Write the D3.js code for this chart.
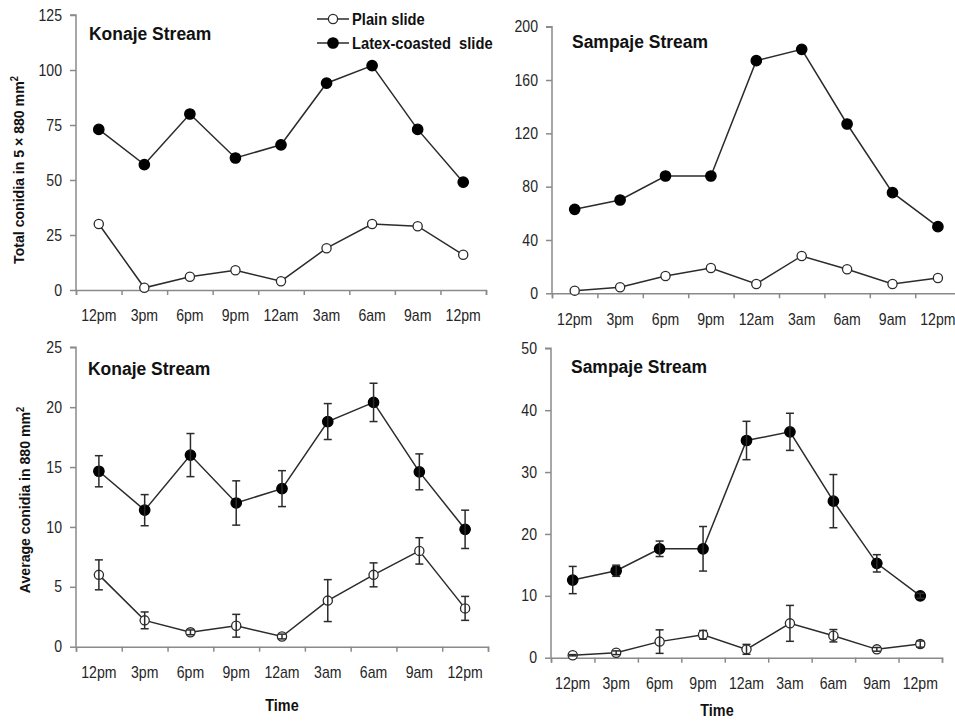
<!DOCTYPE html>
<html>
<head>
<meta charset="utf-8">
<script src="https://cdn.jsdelivr.net/npm/d3@7"></script>
<style>
  html, body { margin: 0; padding: 0; background: #fff; }
  svg { display: block; font-family: "Liberation Sans", Arial, sans-serif; }
</style>
</head>
<body>
<svg id="chart" width="955" height="722"></svg>
<script>
// Sampling times (3-hour intervals over 24 h)
const times = ["12pm", "3pm", "6pm", "9pm", "12am", "3am", "6am", "9am", "12pm"];

// Total conidia trapped in 5 x 880 mm2
const konajeTotalPlain = [30, 1, 6, 9, 4, 19, 30, 29, 16];
const konajeTotalLatex = [73, 57, 80, 60, 66, 94, 102, 73, 49];
const sampajeTotalPlain = [2, 4.5, 13, 19, 7, 28, 18, 7, 11.5];
const sampajeTotalLatex = [63, 70, 88, 88, 174.5, 183, 127, 75.5, 50];

// Average conidia in 880 mm2 (mean and +/- error)
const konajeAvgPlain = [6.0, 2.2, 1.2, 1.75, 0.85, 3.85, 6.0, 8.0, 3.2];
const konajeAvgPlainErr = [1.25, 0.7, 0.2, 0.95, 0.2, 1.75, 1.0, 1.1, 1.0];
const konajeAvgLatex = [14.65, 11.4, 16.0, 12.0, 13.2, 18.8, 20.4, 14.6, 9.8];
const konajeAvgLatexErr = [1.3, 1.3, 1.8, 1.85, 1.5, 1.5, 1.6, 1.5, 1.6];
const sampajeAvgPlain = [0.4, 0.8, 2.6, 3.7, 1.35, 5.55, 3.55, 1.35, 2.2];
const sampajeAvgPlainErr = [0.1, 0.3, 1.9, 0.7, 0.8, 2.9, 1.0, 0.3, 0.5];
const sampajeAvgLatex = [12.55, 14.05, 17.6, 17.6, 35.1, 36.5, 25.3, 15.25, 10.0];
const sampajeAvgLatexErr = [2.2, 0.9, 1.25, 3.6, 3.1, 3.0, 4.3, 1.4, 0.4];

// Y-axis tick values
const konajeTotalTicks = [0, 25, 50, 75, 100, 125];
const sampajeTotalTicks = [0, 40, 80, 120, 160, 200];
const konajeAvgTicks = [0, 5, 10, 15, 20, 25];
const sampajeAvgTicks = [0, 10, 20, 30, 40, 50];

const seriesNames = ["Plain slide", "Latex-coasted  slide"];

const svg = d3.select("#chart");
const LINE = "#2b2b2b", AXIS = "#8a8a8a", TEXT = "#262626";

// Panel layout
const panels = [
  { title: "Konaje Stream", x0: 76, x1: 486, y0: 290, y1: 15, ticks: konajeTotalTicks,
    plain: konajeTotalPlain, latex: konajeTotalLatex, titlePos: [89, 40],
    ylabel: "Total conidia in 5 \u00d7 880 mm", ylabelPos: [24, 170], legend: true },
  { title: "Sampaje Stream", x0: 552, x1: 960.6, y0: 293.3, y1: 26.7, ticks: sampajeTotalTicks,
    plain: sampajeTotalPlain, latex: sampajeTotalLatex, titlePos: [572, 48] },
  { title: "Konaje Stream", x0: 76, x1: 488, y0: 646.7, y1: 347.3, ticks: konajeAvgTicks,
    plain: konajeAvgPlain, plainErr: konajeAvgPlainErr, latex: konajeAvgLatex, latexErr: konajeAvgLatexErr,
    titlePos: [88, 375], ylabel: "Average conidia in 880 mm", ylabelPos: [30, 500], xlabel: [282, 711] },
  { title: "Sampaje Stream", x0: 551, x1: 942, y0: 657.7, y1: 348.3, ticks: sampajeAvgTicks,
    plain: sampajeAvgPlain, plainErr: sampajeAvgPlainErr, latex: sampajeAvgLatex, latexErr: sampajeAvgLatexErr,
    titlePos: [571, 373], xlabel: [717, 716] }
];

function drawPanel(p) {
  const g = svg.append("g");
  const idx = d3.range(times.length);
  const x = d3.scaleBand().domain(idx).range([p.x0, p.x1]).paddingInner(0).paddingOuter(0);
  const xEdge = d3.scaleLinear().domain([0, times.length]).range([p.x0, p.x1]);
  const y = d3.scaleLinear().domain([p.ticks[0], p.ticks[p.ticks.length - 1]]).range([p.y0, p.y1]);
  const cx = i => x(i) + x.bandwidth() / 2;

  // x axis: boundary ticks + centred category labels
  const xa = g.append("g").attr("transform", `translate(0,${p.y0})`)
    .call(d3.axisBottom(xEdge).tickValues(d3.range(times.length + 1)).tickFormat("").tickSize(5).tickSizeOuter(5));
  xa.selectAll("path, line").attr("stroke", AXIS).attr("stroke-width", 1.5);
  const xl = g.append("g").attr("transform", `translate(0,${p.y0})`)
    .call(d3.axisBottom(x).tickSize(0).tickPadding(20).tickFormat(i => times[i]));
  xl.select(".domain").remove();
  xl.selectAll("text").attr("font-size", 16).attr("fill", TEXT).attr("transform", "scale(0.88,1)");

  // y axis
  const ya = g.append("g").attr("transform", `translate(${p.x0},0)`)
    .call(d3.axisLeft(y).tickValues(p.ticks).tickSize(6).tickSizeOuter(6).tickPadding(7));
  ya.selectAll("path, line").attr("stroke", AXIS).attr("stroke-width", 1.5);
  ya.select(".domain").attr("d", `M-6,${y.range()[1]}H0V${y.range()[0]}`);
  ya.selectAll("text").attr("font-size", 16).attr("fill", TEXT)
    .attr("transform", "scale(0.88,1)").attr("x", -14 / 0.88);

  // title
  g.append("text")
    .attr("transform", `translate(${p.titlePos[0]},${p.titlePos[1]}) scale(0.92,1)`)
    .attr("font-size", 19).attr("font-weight", "bold").attr("fill", "#111")
    .text(p.title);

  const line = d3.line().x((d, i) => cx(i)).y(d => y(d));

  [["latex", p.latex, p.latexErr], ["plain", p.plain, p.plainErr]].forEach(([kind, vals, errs]) => {
    g.append("path").datum(vals).attr("d", line)
      .attr("fill", "none").attr("stroke", LINE).attr("stroke-width", 1.5);
    g.selectAll(null).data(vals).enter().append("circle")
      .attr("cx", (d, i) => cx(i)).attr("cy", d => y(d))
      .attr("r", kind === "latex" ? 5.2 : 4.6)
      .attr("fill", kind === "latex" ? "#000" : "#fff")
      .attr("stroke", kind === "latex" ? "#000" : LINE)
      .attr("stroke-width", 1.3);
    if (errs) {
      const eg = g.append("g").attr("stroke", LINE).attr("stroke-width", 1.5);
      vals.forEach((v, i) => {
        const top = y(v + errs[i]), bot = y(v - errs[i]), xc = cx(i);
        eg.append("line").attr("x1", xc).attr("x2", xc).attr("y1", top).attr("y2", bot);
        eg.append("line").attr("x1", xc - 4).attr("x2", xc + 4).attr("y1", top).attr("y2", top);
        eg.append("line").attr("x1", xc - 4).attr("x2", xc + 4).attr("y1", bot).attr("y2", bot);
      });
    }
  });

  // y-axis title with superscript
  if (p.ylabel) {
    const t = g.append("text")
      .attr("transform", `translate(${p.ylabelPos[0]},${p.ylabelPos[1]}) rotate(-90) scale(0.94,1)`)
      .attr("text-anchor", "middle").attr("font-size", 15).attr("font-weight", "bold").attr("fill", "#111");
    t.append("tspan").text(p.ylabel);
    t.append("tspan").attr("dy", -6).attr("font-size", 10).text("2");
  }
  if (p.xlabel) {
    g.append("text")
      .attr("transform", `translate(${p.xlabel[0]},${p.xlabel[1]}) scale(0.9,1)`)
      .attr("text-anchor", "middle").attr("font-size", 16).attr("font-weight", "bold").attr("fill", "#111")
      .text("Time");
  }

  if (p.legend) {
    const lg = g.append("g");
    [[seriesNames[0], 19, false], [seriesNames[1], 43, true]].forEach(([name, ly, filled]) => {
      lg.append("line").attr("x1", 317).attr("x2", 349).attr("y1", ly).attr("y2", ly)
        .attr("stroke", LINE).attr("stroke-width", 1.5);
      lg.append("circle").attr("cx", 333).attr("cy", ly).attr("r", filled ? 5.2 : 4.6)
        .attr("fill", filled ? "#000" : "#fff").attr("stroke", filled ? "#000" : LINE).attr("stroke-width", 1.3);
      lg.append("text").attr("transform", `translate(352,${ly + 5.5}) scale(0.92,1)`)
        .attr("font-size", 16).attr("font-weight", "bold").attr("fill", "#111")
        .attr("xml:space", "preserve").style("white-space", "pre").text(name);
    });
  }
}

panels.forEach(drawPanel);
</script>
</body>
</html>
